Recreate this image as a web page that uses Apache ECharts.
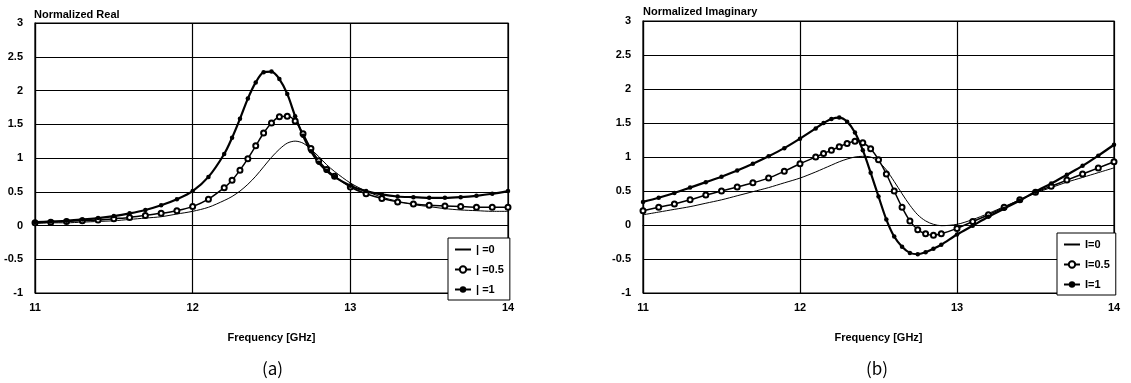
<!DOCTYPE html>
<html>
<head>
<meta charset="utf-8">
<script src="https://cdn.jsdelivr.net/npm/echarts@6/dist/echarts.min.js"></script>
<style>
  html, body { margin: 0; padding: 0; background: #fff; }
  #chart { width: 1131px; height: 383px; }
</style>
</head>
<body>
<div id="chart"></div>
<script>
// frequencies (GHz) sampled for the real-part panel (a)
const freqReal = [11.0, 11.1, 11.2, 11.3, 11.4, 11.5, 11.6, 11.7, 11.8, 11.9, 12.0, 12.1, 12.2,
  12.25, 12.3, 12.35, 12.4, 12.45, 12.5, 12.55, 12.6, 12.65, 12.7, 12.75, 12.8, 12.85, 12.9,
  13.0, 13.1, 13.2, 13.3, 13.4, 13.5, 13.6, 13.7, 13.8, 13.9, 14.0]
const realI0 = [0.03, 0.04, 0.04, 0.05, 0.06, 0.07, 0.09, 0.11, 0.13, 0.17, 0.21, 0.27, 0.37,
  0.43, 0.51, 0.61, 0.73, 0.87, 1.01, 1.13, 1.22, 1.25, 1.22, 1.13, 1.02, 0.90, 0.80,
  0.63, 0.51, 0.42, 0.36, 0.31, 0.28, 0.25, 0.23, 0.22, 0.21, 0.21]
const realI05 = [0.04, 0.05, 0.06, 0.07, 0.08, 0.10, 0.12, 0.15, 0.18, 0.22, 0.28, 0.39, 0.56,
  0.67, 0.82, 0.99, 1.18, 1.37, 1.52, 1.61, 1.62, 1.55, 1.36, 1.14, 0.96, 0.83, 0.73,
  0.57, 0.47, 0.40, 0.35, 0.32, 0.30, 0.29, 0.28, 0.27, 0.27, 0.27]
const realI1 = [0.05, 0.06, 0.07, 0.09, 0.11, 0.14, 0.18, 0.23, 0.30, 0.39, 0.51, 0.72, 1.06,
  1.30, 1.58, 1.88, 2.12, 2.27, 2.28, 2.17, 1.95, 1.62, 1.33, 1.10, 0.93, 0.81, 0.72,
  0.59, 0.51, 0.46, 0.43, 0.42, 0.41, 0.41, 0.42, 0.44, 0.47, 0.51]

// frequencies (GHz) sampled for the imaginary-part panel (b)
const freqImag = [11.0, 11.1, 11.2, 11.3, 11.4, 11.5, 11.6, 11.7, 11.8, 11.9, 12.0, 12.1,
  12.15, 12.2, 12.25, 12.3, 12.35, 12.4, 12.45, 12.5, 12.55, 12.6, 12.65, 12.7, 12.75, 12.8, 12.85, 12.9,
  13.0, 13.1, 13.2, 13.3, 13.4, 13.5, 13.6, 13.7, 13.8, 13.9, 14.0]
const imagI0 = [0.15, 0.19, 0.23, 0.27, 0.32, 0.37, 0.43, 0.49, 0.55, 0.62, 0.69, 0.78,
  0.83, 0.88, 0.93, 0.97, 1.00, 1.01, 1.00, 0.93, 0.81, 0.64, 0.46, 0.29, 0.15, 0.06, 0.01, -0.01,
  0.01, 0.08, 0.17, 0.27, 0.37, 0.47, 0.55, 0.63, 0.70, 0.77, 0.84]
const imagI05 = [0.21, 0.26, 0.31, 0.37, 0.44, 0.50, 0.56, 0.62, 0.69, 0.79, 0.90, 1.00,
  1.05, 1.10, 1.15, 1.20, 1.23, 1.21, 1.12, 0.96, 0.75, 0.50, 0.26, 0.06, -0.07, -0.13, -0.15, -0.13,
  -0.05, 0.05, 0.15, 0.26, 0.37, 0.48, 0.57, 0.66, 0.75, 0.84, 0.93]
const imagI1 = [0.34, 0.40, 0.47, 0.55, 0.63, 0.71, 0.80, 0.90, 1.01, 1.13, 1.27, 1.42,
  1.50, 1.56, 1.58, 1.52, 1.36, 1.10, 0.77, 0.42, 0.08, -0.17, -0.32, -0.41, -0.43, -0.40, -0.35, -0.29,
  -0.14, -0.01, 0.12, 0.24, 0.36, 0.49, 0.61, 0.74, 0.87, 1.02, 1.18]

const namesReal = ['| =0', '| =0.5', '| =1']
const namesImag = ['I=0', 'I=0.5', 'I=1']

const font = 'Liberation Sans, Arial, sans-serif'
const pairs = (xs, ys) => xs.map((x, i) => [x, ys[i]])

function xAxisFor(idx) {
  return {
    type: 'value', gridIndex: idx, min: 11, max: 14, interval: 1,
    name: 'Frequency [GHz]', nameLocation: 'middle', nameGap: 39,
    nameTextStyle: { color: '#000', fontSize: 11, fontWeight: 'bold', fontFamily: font },
    axisLine: { lineStyle: { color: '#000', width: 1.2 } },
    axisTick: { show: false },
    axisLabel: { color: '#000', fontSize: 11, fontWeight: 'bold', fontFamily: font, margin: 9 },
    splitLine: { show: true, lineStyle: { color: '#000', width: 1.2 } }
  }
}
function yAxisFor(idx) {
  return {
    type: 'value', gridIndex: idx, min: -1, max: 3, interval: 0.5,
    axisLine: { show: true, lineStyle: { color: '#000', width: 1.2 } },
    axisTick: { show: false },
    axisLabel: { color: '#000', fontSize: 11, fontWeight: 'bold', fontFamily: font, margin: 12 },
    splitLine: { show: true, lineStyle: { color: '#000', width: 1.2 } }
  }
}
function seriesFor(idx, names, xs, v0, v05, v1) {
  return [
    { name: names[0], type: 'line', xAxisIndex: idx, yAxisIndex: idx, data: pairs(xs, v0),
      smooth: 0.3, showSymbol: false, symbol: 'none', lineStyle: { color: '#000', width: 1 },
      itemStyle: { color: '#000' } },
    { name: names[1], type: 'line', xAxisIndex: idx, yAxisIndex: idx, data: pairs(xs, v05),
      smooth: 0.3, symbol: 'emptyCircle', symbolSize: 5, showAllSymbol: true,
      lineStyle: { color: '#000', width: 1.5 }, itemStyle: { color: '#000', borderColor: '#000', borderWidth: 1 } },
    { name: names[2], type: 'line', xAxisIndex: idx, yAxisIndex: idx, data: pairs(xs, v1),
      smooth: 0.3, symbol: 'circle', symbolSize: 4.5, showAllSymbol: true,
      lineStyle: { color: '#000', width: 2.2 }, itemStyle: { color: '#000' } }
  ]
}
function legendFor(names, left, top) {
  return {
    data: [
      { name: names[0], itemStyle: { opacity: 0 } },
      { name: names[1] },
      { name: names[2] }
    ],
    orient: 'vertical', left: left, top: top,
    itemWidth: 16, itemHeight: 8, itemGap: 9, padding: [6, 6, 5, 6],
    backgroundColor: '#fff', borderColor: '#000', borderWidth: 1, borderRadius: 0,
    textStyle: { color: '#000', fontSize: 11, fontWeight: 'bold', fontFamily: font },
    selectedMode: false
  }
}

const chart = echarts.init(document.getElementById('chart'))
chart.setOption({
  animation: false,
  backgroundColor: '#fff',
  title: [
    { text: 'Normalized Real', left: 34, top: 9, padding: 0,
      textStyle: { color: '#000', fontSize: 11, fontWeight: 'bold', fontFamily: font } },
    { text: 'Normalized Imaginary', left: 643, top: 6, padding: 0,
      textStyle: { color: '#000', fontSize: 11, fontWeight: 'bold', fontFamily: font } }
  ],
  grid: [
    { left: 35, right: 623, top: 23, bottom: 90, show: true, borderColor: '#000', borderWidth: 1.2 },
    { left: 643, right: 17, top: 21, bottom: 90, show: true, borderColor: '#000', borderWidth: 1.2 }
  ],
  xAxis: [xAxisFor(0), xAxisFor(1)],
  yAxis: [yAxisFor(0), yAxisFor(1)],
  legend: [legendFor(namesReal, 448, 238), legendFor(namesImag, 1057, 233)],
  series: [
    ...seriesFor(0, namesReal, freqReal, realI0, realI05, realI1),
    ...seriesFor(1, namesImag, freqImag, imagI0, imagI05, imagI1)
  ],
  graphic: [
    { type: 'text', left: 262, top: 360,
      style: { text: '(a)', fill: '#000', font: '17px "Noto Sans CJK KR", sans-serif' } },
    { type: 'text', left: 866, top: 360,
      style: { text: '(b)', fill: '#000', font: '17px "Noto Sans CJK KR", sans-serif' } }
  ]
})
</script>
</body>
</html>
